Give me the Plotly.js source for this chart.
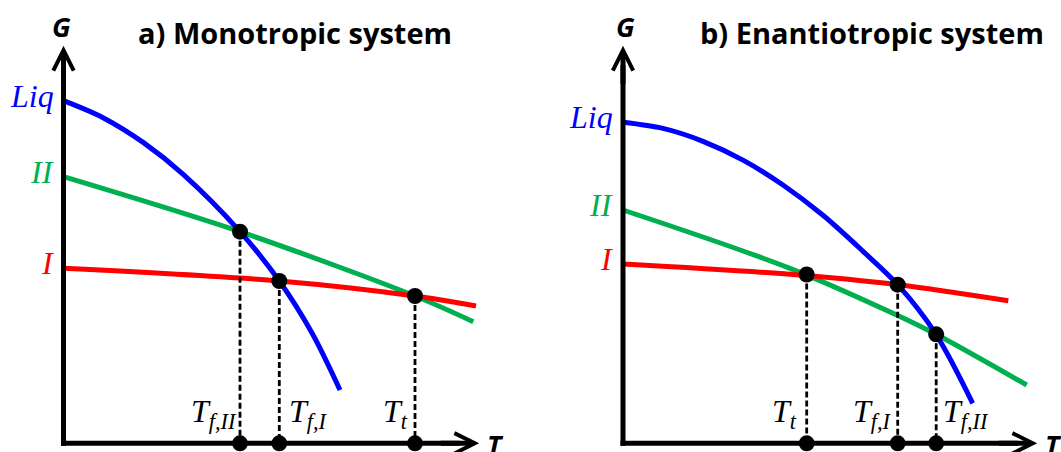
<!DOCTYPE html>
<html>
<head>
<meta charset="utf-8">
<script src="https://cdn.plot.ly/plotly-3.0.1.min.js"></script>
<style>
  html, body { margin: 0; padding: 0; background: #ffffff; }
  #chart { width: 1061px; height: 452px; }
</style>
</head>
<body>
<div id="chart"></div>
<script>
// Gibbs free energy G versus temperature T (schematic units)

// a) Monotropic system
const monoLiqT = [0, 1, 2, 3, 4.4125, 5.395, 6.2125, 6.9125];
const monoLiqG = [8.565, 8.134, 7.516, 6.716, 5.29, 4.058, 2.758, 1.333];
const monoIIT  = [0, 4.4125, 8.7875, 10.245];
const monoIIG  = [6.665, 5.29, 3.683, 3.04];
const monoIT   = [0, 5.395, 8.7875, 10.3125];
const monoIG   = [4.375, 4.058, 3.683, 3.4325];
const monoCrossT = [4.4125, 5.395, 8.7875];
const monoCrossG = [5.29, 4.058, 3.683];
const monoCrossLabels = ['T<sub>f,II</sub>', 'T<sub>f,I</sub>', 'T<sub>t</sub>'];

// b) Enantiotropic system
const enanLiqT = [0, 1.0, 2.0, 3.0, 4.0, 5.0, 6.0, 6.8675, 7.825, 8.7425];
const enanLiqG = [8.025, 7.872, 7.55, 7.08, 6.458, 5.7, 4.8, 3.965, 2.725, 1.0];
const enanIIT  = [0, 4.175, 6.8425, 7.825, 10.0925];
const enanIIG  = [5.8325, 4.375, 3.2075, 2.725, 1.4575];
const enanIT   = [0, 4.175, 6.8675, 9.6325];
const enanIG   = [4.4825, 4.225, 3.965, 3.565];
const enanCrossT = [4.5925, 6.8675, 7.83];
const enanCrossG = [4.22, 3.965, 2.725];
const enanCrossLabels = ['T<sub>t</sub>', 'T<sub>f,I</sub>', 'T<sub>f,II</sub>'];

const phaseNames = ['Liq', 'II', 'I'];
const panelTitles = ['a) Monotropic system', 'b) Enantiotropic system'];

const liqColor = '#0000FF';
const formIIColor = '#00B050';
const formIColor = '#FF0000';

const serif = 'Liberation Serif, DejaVu Serif, serif';
const sans = 'Open Sans, Noto Sans, sans-serif';

const panels = [
  {
    xa: 'x', ya: 'y', tTip: 10.4125, gTip: 9.9575, titleX: 295, gShift: -2,
    liq: [monoLiqT, monoLiqG], formII: [monoIIT, monoIIG], formI: [monoIT, monoIG],
    crossT: monoCrossT, crossG: monoCrossG, crossLabels: monoCrossLabels,
    labelAnchor: ['right', 'left', 'right'], labelShift: [-1, 8, -5],
    title: panelTitles[0]
  },
  {
    xa: 'x2', ya: 'y2', tTip: 10.375, gTip: 9.9575, titleX: 872, gShift: 2,
    liq: [enanLiqT, enanLiqG], formII: [enanIIT, enanIIG], formI: [enanIT, enanIG],
    crossT: enanCrossT, crossG: enanCrossG, crossLabels: enanCrossLabels,
    labelAnchor: ['right', 'right', 'left'], labelShift: [-8, -4, 5],
    title: panelTitles[1]
  }
];

const traces = [];
const annotations = [];
const shapes = [];

function curve(T, G, color, p) {
  return {
    type: 'scatter', mode: 'lines', x: T, y: G, xaxis: p.xa, yaxis: p.ya,
    line: { color: color, width: 5, shape: 'spline', smoothing: 0.9 },
    hoverinfo: 'skip', showlegend: false
  };
}

panels.forEach(function (p) {
  // phase curves: II under I under Liq
  traces.push(curve(p.formII[0], p.formII[1], formIIColor, p));
  traces.push(curve(p.formI[0], p.formI[1], formIColor, p));
  traces.push(curve(p.liq[0], p.liq[1], liqColor, p));

  // dashed drop lines from each crossing to the T axis
  const dx = [], dy = [];
  p.crossT.forEach(function (t, i) { dx.push(t, t, null); dy.push(p.crossG[i], 0, null); });
  traces.push({
    type: 'scatter', mode: 'lines', x: dx, y: dy, xaxis: p.xa, yaxis: p.ya,
    line: { color: '#000000', width: 2.8, dash: '6px,3px' },
    connectgaps: false, hoverinfo: 'skip', showlegend: false
  });

  // crossing points and their projections on the T axis
  traces.push({
    type: 'scatter', mode: 'markers',
    x: p.crossT.concat(p.crossT), y: p.crossG.concat(p.crossT.map(function () { return 0; })),
    xaxis: p.xa, yaxis: p.ya,
    marker: { color: '#000000', size: 16, line: { width: 0 } },
    hoverinfo: 'skip', showlegend: false, cliponaxis: false
  });

  // axis lines
  shapes.push({ type: 'line', xref: p.xa, yref: p.ya, x0: 0, y0: -0.0625, x1: 0, y1: p.gTip - 0.5,
    line: { color: '#000000', width: 5 } });
  shapes.push({ type: 'line', xref: p.xa, yref: p.ya, x0: -0.0625, y0: 0, x1: p.tTip - 0.5, y1: 0,
    line: { color: '#000000', width: 5 } });

  // arrow heads
  const head = { xref: p.xa, yref: p.ya, text: '', showarrow: true, arrowhead: 5,
    arrowsize: 0.8, arrowwidth: 5, arrowcolor: '#000000', font: { size: 1 } };
  annotations.push(Object.assign({}, head, { x: 0, y: p.gTip - 0.02, ax: 0, ay: 40 }));
  annotations.push(Object.assign({}, head, { x: p.tTip - 0.02, y: 0, ax: -40, ay: 0 }));

  // axis names
  annotations.push({ xref: p.xa, yref: p.ya, x: 0, y: p.gTip, xshift: p.gShift, yshift: 19,
    text: '<b><i>G</i></b>', showarrow: false, xanchor: 'center', yanchor: 'middle',
    font: { family: sans, size: 27, color: '#000000' } });
  annotations.push({ xref: p.xa, yref: p.ya, x: p.tTip, y: 0, xshift: 5, yshift: -1,
    text: '<b><i>T</i></b>', showarrow: false, xanchor: 'left', yanchor: 'middle',
    font: { family: sans, size: 27, color: '#000000' } });

  // panel title
  annotations.push({ xref: 'paper', yref: 'paper', x: p.titleX / 1061, y: 1 - 32 / 452,
    text: '<b>' + p.title + '</b>', showarrow: false, xanchor: 'center', yanchor: 'middle',
    font: { family: sans, size: 29, color: '#000000' } });

  // phase names at the start of each curve
  const starts = [p.liq[1][0], p.formII[1][0], p.formI[1][0]];
  const colors = [liqColor, formIIColor, formIColor];
  phaseNames.forEach(function (name, i) {
    annotations.push({ xref: p.xa, yref: p.ya, x: 0, y: starts[i], xshift: -8, yshift: 5,
      text: '<i>' + name + '</i>', showarrow: false, xanchor: 'right', yanchor: 'middle',
      font: { family: serif, size: 32, color: colors[i] } });
  });

  // temperature labels beside the drop lines
  p.crossT.forEach(function (t, i) {
    annotations.push({ xref: p.xa, yref: p.ya, x: t, y: 0, xshift: p.labelShift[i], yshift: 30,
      text: '<i>' + p.crossLabels[i] + '</i>', showarrow: false, xanchor: p.labelAnchor[i], yanchor: 'middle',
      font: { family: serif, size: 32, color: '#000000' } });
  });
});

const hidden = { visible: false, showgrid: false, zeroline: false, fixedrange: true };

const layout = {
  width: 1061, height: 452,
  margin: { l: 0, r: 0, t: 0, b: 0, pad: 0 },
  paper_bgcolor: '#ffffff', plot_bgcolor: '#ffffff',
  showlegend: false,
  xaxis:  Object.assign({}, hidden, { domain: [0, 0.5], range: [-1.5875, 11.675], anchor: 'y' }),
  yaxis:  Object.assign({}, hidden, { domain: [0, 1], range: [-0.2175, 11.0825], anchor: 'x' }),
  xaxis2: Object.assign({}, hidden, { domain: [0.5, 1], range: [-2.3125, 10.95], anchor: 'y2' }),
  yaxis2: Object.assign({}, hidden, { domain: [0, 1], range: [-0.2175, 11.0825], anchor: 'x2' }),
  shapes: shapes,
  annotations: annotations
};

Plotly.newPlot('chart', traces, layout, { staticPlot: true, displayModeBar: false });
</script>
</body>
</html>
